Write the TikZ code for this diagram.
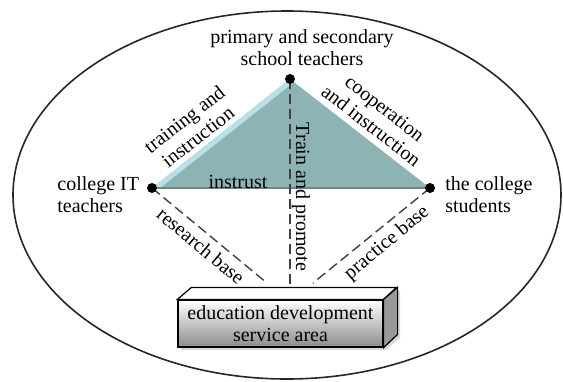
\documentclass[tikz,border=0pt]{standalone}
\usepackage{fontspec}
\setmainfont{Liberation Serif}
\definecolor{trifill}{RGB}{141,179,181}
\definecolor{triedge}{RGB}{186,224,229}
\definecolor{triline}{RGB}{105,135,140}
\begin{document}
\begin{tikzpicture}[x=0.5pt,y=-0.5pt,%
        mydot/.style={shape=circle,fill=black,inner sep=0pt,minimum size=5pt},
        mybase/.style={dash pattern=on 5pt off 2.5pt,line width=0.7pt,black!75},
        mytext/.style={align=center,inner sep=0pt,font=\fontsize{10}{11}\selectfont}
    ]
    \useasboundingbox (0,0) rectangle (563,381);
    \draw [line width=0.8pt,black!85] (287,195) ellipse [x radius=274,y radius=184];
    \coordinate (P) at (290,79);
    \coordinate (L) at (152,188);
    \coordinate (R) at (430,188);
    \begin{scope}
        \clip (L) -- (P) -- (R) -- cycle;
        \fill [trifill] (L) -- (P) -- (R) -- cycle;
        \draw [line width=5pt,triedge] (L) -- (P);
    \end{scope}
    \draw [line width=1pt,triline] (L) -- (R);
    % education development service area
    \fill [black!15] (181,303) -- ++(14,-12) -- ++(205,0) -- ++(0,47) -- ++(-14,12) -- ++(-205,0) -- cycle;
    \node [draw,line width=0.6pt,minimum width=102.5pt,minimum height=23.5pt,
           top color=white,bottom color=black!45,mytext] (area) at (280.5,323.5)
           {education development\\service area};
    \draw [line width=0.6pt,fill=white] (area.north west) -- ++(14,-12) -- ++(205,0)
        -- (area.north east) -- cycle;
    \draw [line width=0.6pt,fill=black!40] (area.north east) -- ++(14,-12) -- ++(0,47)
        -- (area.south east) -- cycle;
    \coordinate (rb) at (267,283);
    \coordinate (tp) at (290,288);
    \coordinate (pb) at (313,283);
    \draw [mybase] (L) -- (rb);
    \draw [mybase] (P) -- (tp);
    \draw [mybase] (R) -- (pb);
    \node [mydot] (tchr) at (P) {};
    \node [mydot] (itt) at (L) {};
    \node [mydot] (stu) at (R) {};
    \node [mytext] (tchrtxt) at (302,48) {primary and secondary\\school teachers};
    \node [mytext,align=left,anchor=west] (itttxt) at (57,195) {college IT\\teachers};
    \node [mytext,align=left,anchor=west] (stutxt) at (445,195) {the college\\students};
    \node [mytext,rotate=38] (train) at (191,128) {training and\\instruction};
    \node [mytext,rotate=-38] (coop) at (378,117) {cooperation\\and instruction};
    \node [mytext] (inst) at (238,182) {instrust};
    \node [mytext,rotate=-90] (prom) at (301,197) {Train and promote};
    \node [mytext,rotate=-40] (res) at (201,246) {research base};
    \node [mytext,rotate=40] (prac) at (387,243) {practice base};
\end{tikzpicture}
\end{document}
